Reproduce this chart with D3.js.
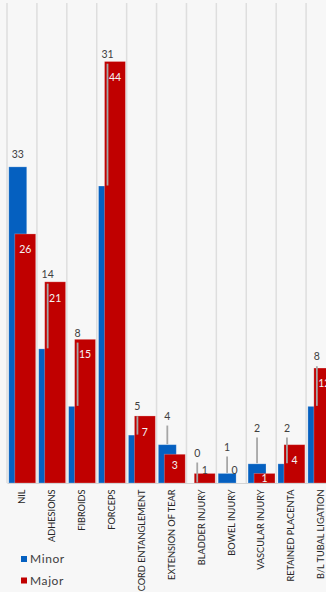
<!DOCTYPE html>
<html>
<head>
<meta charset="utf-8">
<script src="https://cdn.jsdelivr.net/npm/d3@7/dist/d3.min.js"></script>
<style>
  html, body { margin: 0; padding: 0; background: #f7f7f7; }
  svg { display: block; font-family: Lato, "Open Sans", "DejaVu Sans", sans-serif; }
</style>
</head>
<body>
<svg id="chart" width="326" height="592"></svg>
<script>
// ---- data ----
const categories = ["NIL", "ADHESIONS", "FIBROIDS", "FORCEPS", "CORD ENTANGLEMENT",
  "EXTENSION OF TEAR", "BLADDER INJURY", "BOWEL INJURY", "VASCULAR INJURY",
  "RETAINED PLACENTA", "B/L TUBAL LIGATION"];
const seriesNames = ["Minor", "Major"];
const minor = [33, 14, 8, 31, 5, 4, 0, 1, 2, 2, 8];
const major = [26, 21, 15, 44, 7, 3, 1, 0, 1, 4, 12];
// where the (manually moved) data labels sit, in value units
const minorLabelLevel = [34.3, 21.8, 15.65, 44.76, 7.96, 6.99, 3.13, 3.76, 5.74, 5.74, 13.18];
const majorLabelLevel = [24.42, 19.3, 13.46, 42.36, 5.32, 1.81, 1.36, 1.36, 0.52, 2.33, 10.43];
const valueMax = 50;

const colors = { Minor: "#0560c0", Major: "#c00000" };

const svg = d3.select("#chart");
const W = 326, H = 592;
svg.append("rect").attr("width", W).attr("height", H).attr("fill", "#f7f7f7");

const x = d3.scaleBand().domain(categories).range([7, 336]).padding(0);
const y = d3.scaleLinear().domain([0, valueMax]).range([483, 4]);
const bw = x.bandwidth();

// vertical gridlines at category boundaries
svg.append("g").selectAll("line").data(categories).join("line")
  .attr("x1", d => x(d)).attr("x2", d => x(d))
  .attr("y1", y(valueMax) - 1).attr("y2", y(0))
  .attr("stroke", "#dedede").attr("stroke-width", 1.5);

const rows = categories.map((c, i) => ({ c, minor: minor[i], major: major[i],
  minorAt: minorLabelLevel[i], majorAt: majorLabelLevel[i] }));

// Minor bars
svg.append("g").selectAll("rect").data(rows).join("rect")
  .attr("x", d => x(d.c) + bw * 0.06)
  .attr("width", bw * 0.6)
  .attr("y", d => y(d.minor))
  .attr("height", d => y(0) - y(d.minor))
  .attr("fill", colors.Minor)
  .attr("stroke", "rgba(255,255,255,0.3)").attr("stroke-width", 0.8);

// Major bars (overlapping, drawn on top)
svg.append("g").selectAll("rect").data(rows).join("rect")
  .attr("x", d => x(d.c) + bw * 0.26)
  .attr("width", bw * 0.7)
  .attr("y", d => y(d.major))
  .attr("height", d => y(0) - y(d.major))
  .attr("fill", colors.Major)
  .attr("stroke", "rgba(255,255,255,0.3)").attr("stroke-width", 0.8);

// category axis
const axis = svg.append("g").attr("transform", `translate(0,${y(0)})`)
  .call(d3.axisBottom(x).tickSize(0));
axis.select(".domain").attr("stroke", "#d4d4d4").attr("stroke-width", 1.2);
axis.selectAll(".tick text")
  .attr("transform", "rotate(-90)")
  .attr("x", -6.5).attr("y", 0).attr("dy", "0.35em")
  .attr("text-anchor", "end")
  .attr("fill", "#262626")
  .style("font-size", "9.2px")
  .style("font-family", "Lato, 'Open Sans', sans-serif");

const minorCx = d => x(d.c) + bw * 0.06 + bw * 0.3;
const majorCx = d => x(d.c) + bw * 0.26 + bw * 0.35;

// leader lines for moved Minor labels
svg.append("g").selectAll("line")
  .data(rows.filter(d => y(d.minor) - (y(d.minorAt) + 9.5) > 5))
  .join("line")
  .attr("x1", minorCx).attr("x2", minorCx)
  .attr("y1", d => y(d.minorAt) + 9.5).attr("y2", d => y(d.minor) - 0.5)
  .attr("stroke", "#a6a6a6").attr("stroke-width", 1.8);

// Minor labels
svg.append("g").selectAll("text").data(rows).join("text")
  .attr("x", minorCx).attr("y", d => y(d.minorAt))
  .attr("dy", "0.35em").attr("text-anchor", "middle")
  .attr("fill", "#404040").style("font-size", "10.5px")
  .text(d => d.minor);

// Major labels
svg.append("g").selectAll("text").data(rows).join("text")
  .attr("x", majorCx).attr("y", d => y(d.majorAt))
  .attr("dy", "0.35em").attr("text-anchor", "middle")
  .attr("fill", d => d.majorAt < d.major ? "#f4f4f4" : "#404040")
  .style("font-size", "10.5px")
  .text(d => d.major);

// legend
const legend = svg.append("g").selectAll("g").data(seriesNames).join("g")
  .attr("transform", (d, i) => `translate(21,${559 + i * 21.5})`);
legend.append("rect").attr("x", 0).attr("y", -3).attr("width", 6).attr("height", 6)
  .attr("fill", d => colors[d]);
legend.append("text").attr("x", 9).attr("y", 0).attr("dy", "0.36em")
  .attr("fill", "#404040").style("font-size", "12px").style("letter-spacing", "0.6px")
  .text(d => d);
</script>
</body>
</html>
